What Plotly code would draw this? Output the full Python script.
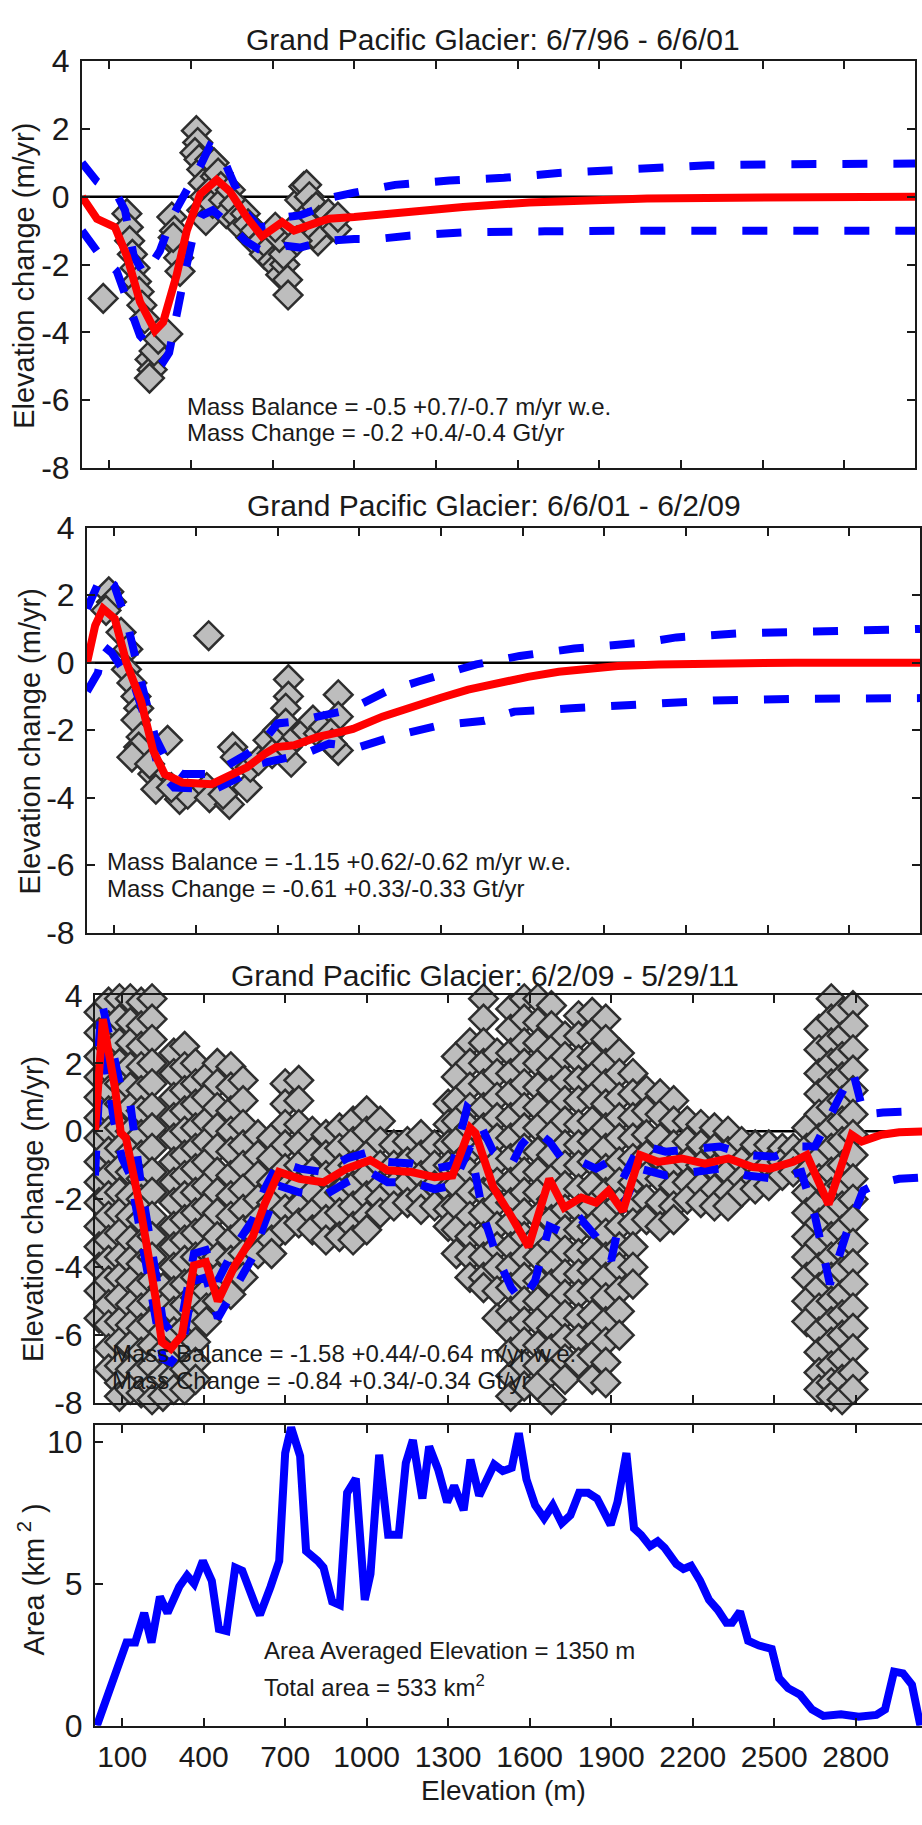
import plotly.graph_objects as go

FIG_W, FIG_H = 922, 1825

# ------------------------------------------------------------------ data
ELEV_TICKS = [100, 400, 700, 1000, 1300, 1600, 1900, 2200, 2500, 2800]
DH_TICKS = [-8, -6, -4, -2, 0, 2, 4]
AREA_TICKS = [0, 5, 10]

PANEL_TITLES = [
    "Grand Pacific Glacier: 6/7/96 - 6/6/01",
    "Grand Pacific Glacier: 6/6/01 - 6/2/09",
    "Grand Pacific Glacier: 6/2/09 - 5/29/11",
]
MB_TEXT = [
    "Mass Balance = -0.5 +0.7/-0.7 m/yr w.e.",
    "Mass Balance = -1.15 +0.62/-0.62 m/yr w.e.",
    "Mass Balance = -1.58 +0.44/-0.64 m/yr w.e.",
]
MC_TEXT = [
    "Mass Change = -0.2 +0.4/-0.4 Gt/yr",
    "Mass Change = -0.61 +0.33/-0.33 Gt/yr",
    "Mass Change = -0.84 +0.34/-0.34 Gt/yr",
]
AREA_TEXT_1 = "Area Averaged Elevation = 1350 m"
AREA_TEXT_2 = "Total area = 533 km<sup>2</sup>"

ZERO_X = [0, 3060]
ZERO_Y = [0, 0]

# ---- panel 1 (1996-2001)
P1_OBS_X = [78, 165, 170, 175, 185, 195, 200, 210, 220, 230, 250, 258, 248, 265, 280, 315,
            330, 340, 345, 355, 360, 335, 420, 425, 415, 430, 440, 445, 450, 440, 455, 470,
            485, 490, 475, 480, 500, 510, 520, 530, 545, 560, 570, 585, 600, 610, 620, 635,
            645, 660, 670, 690, 700, 715, 730, 745, 755, 757, 740, 725, 710, 800, 815, 825,
            835, 845, 860, 870, 880, 890, 905, 910, 867, 850, 830, 780, 790, 935, 940]
P1_OBS_Y = [-3.0, -0.5, -0.9, -1.3, -1.7, -2.1, -2.5, -2.8, -3.2, -3.6, -4.8, -5.1, -5.35, -4.55, -4.2, -4.05,
            -0.6, -1.0, -1.4, -1.8, -2.2, -1.2, 1.95, 1.6, 1.3, 1.1, 0.8, 0.4, 0.0, -0.4, -0.7, 1.1,
            1.0, 0.6, 0.2, -0.2, 0.7, 0.3, -0.1, -0.5, 0.2, -0.2, -0.6, -0.9, -0.5, -0.8, -1.2, -1.0,
            -1.4, -1.3, -1.7, -1.5, -1.9, -2.05, -2.3, -2.0, -2.45, -2.9, -1.7, -1.2, -0.9, -0.1, 0.3, 0.35,
            0.0, -0.4, -0.3, -0.7, -1.0, -0.6, -0.5, -0.85, -1.3, -1.1, -0.8, -0.9, -1.3, -0.95, -0.6]
P1_FIT_X = [0, 55, 121, 165, 213, 268, 298, 348, 385, 434, 495, 543, 605, 661, 735, 779, 867, 908,
            1000, 1212, 1400, 1643, 1850, 2076, 2400, 2700, 3060]
P1_FIT_Y = [0, -0.65, -0.9, -1.75, -3.1, -3.95, -3.7, -2.3, -1.0, 0.07, 0.5, 0.16, -0.6, -1.17, -0.75, -1.0, -0.75, -0.65,
            -0.6, -0.42, -0.3, -0.17, -0.1, -0.05, -0.03, -0.02, 0.0]
P1_UP_X = [0, 55, 100, 132, 158, 190, 230, 286, 334, 385, 434, 470, 510, 540, 606, 650, 700, 750, 800, 850,
           900, 1000, 1150, 1350, 1550, 1750, 2100, 2300, 2600, 3060]
P1_UP_Y = [1.0, 0.45, 0.2, 0.0, -0.4, -1.75, -2.3, -1.6, -0.55, 0.15, 0.9, 1.5, 1.3, 0.73, -0.5, -0.9, -0.85, -0.6, -0.55, -0.4,
           -0.05, 0.12, 0.35, 0.48, 0.56, 0.7, 0.88, 0.93, 0.96, 0.98]
P1_LO_X = [0, 55, 128, 213, 260, 300, 320, 348, 378, 410, 440, 480, 540, 600, 650, 700, 750, 800, 850, 900,
           1000, 1080, 1200, 1400, 1700, 2000, 3060]
P1_LO_Y = [-1.0, -1.6, -2.2, -4.1, -4.5, -4.85, -4.6, -3.3, -2.25, -1.1, -0.55, -0.4, -0.8, -1.3, -1.55, -1.6, -1.45, -1.5, -1.4, -1.3,
           -1.25, -1.25, -1.15, -1.05, -1.02, -1.0, -1.0]

# ---- panel 2 (2001-2009)
P2_OBS_X = [80, 90, 70, 125, 150, 145, 165, 180, 190, 180, 199, 190, 165, 296, 242, 253, 230, 340, 370, 310,
            440, 450, 447, 523, 500, 535, 545, 588, 600, 630, 665, 680, 700, 740, 740, 730, 730, 750, 735,
            770, 804, 830, 850, 870, 923, 923, 895, 923, 900]
P2_OBS_Y = [2.1, 1.8, 1.55, 0.9, 0.4, -0.2, -0.6, -1.0, -1.35, -1.7, -2.2, -2.5, -2.8, -2.3, -3.3, -3.75, -3.0, -4.05, -3.9, -3.7,
            -3.7, -4.0, 0.8, -4.2, -3.9, -2.5, -2.8, -3.7, -3.1, -2.9, -2.3, -2.7, -2.0, -0.5, -1.0, -1.35, -1.8, -2.95, -2.5,
            -2.2, -2.0, -1.7, -2.1, -1.9, -0.95, -1.6, -2.1, -2.6, -2.4]
P2_FIT_X = [0, 30, 59, 102, 145, 199, 243, 285, 350, 458, 523, 588, 653, 695, 761, 848, 933, 977, 1085, 1194,
            1300, 1400, 1517, 1620, 1733, 1850, 1950, 2100, 2300, 2600, 3060]
P2_FIT_Y = [0, 1.1, 1.6, 1.3, 0.0, -1.15, -2.6, -3.3, -3.55, -3.6, -3.35, -3.1, -2.7, -2.5, -2.45, -2.2, -2.05, -1.96, -1.6, -1.3,
            -1.04, -0.8, -0.57, -0.42, -0.27, -0.17, -0.1, -0.05, -0.02, 0.0, 0.0]
P2_UP_X = [0, 55, 100, 150, 200, 250, 300, 350, 460, 520, 590, 650, 700, 760, 850, 933, 1000, 1100, 1220, 1300,
           1430, 1590, 1790, 2050, 2165, 2400, 2700, 3060]
P2_UP_Y = [1.6, 2.6, 2.3, 1.1, -0.6, -2.2, -3.0, -3.3, -3.3, -3.0, -2.7, -2.3, -1.8, -1.75, -1.6, -1.45, -1.25, -0.85, -0.55, -0.35,
           -0.05, 0.2, 0.42, 0.6, 0.75, 0.87, 0.95, 1.0]
P2_LO_X = [0, 40, 60, 90, 177, 231, 264, 320, 470, 560, 631, 700, 800, 890, 1000, 1140, 1300, 1460, 1570, 1780,
           2000, 2300, 2600, 3060]
P2_LO_Y = [-0.85, -0.3, 0.5, 0.3, -0.75, -2.1, -3.2, -3.7, -3.75, -3.4, -3.0, -2.9, -2.7, -2.4, -2.5, -2.15, -1.85, -1.72, -1.45, -1.35,
           -1.25, -1.12, -1.07, -1.05]

# ---- panel 3 (2009-2011): observations stacked per elevation bin
P3_BIN_X = [15, 50, 90, 130, 170, 210, 250, 290, 330, 370, 410, 450, 500, 545, 600, 650, 700, 750, 800, 850,
            900, 950, 1000, 1050, 1100, 1150, 1200, 1250, 1300, 1330, 1380, 1430, 1480, 1530, 1580, 1630, 1680,
            1730, 1780, 1830, 1880, 1930, 1980, 2030, 2080, 2130, 2180, 2230, 2280, 2330, 2380, 2430, 2480,
            2530, 2570, 2620, 2665, 2710, 2750, 2790]
P3_BIN_Y = [
    [3.5, 2.9, 2.2, 1.6, 1.0, 0.4, -0.2, -0.9, -1.5, -2.1, -2.8, -3.4, -4.0, -4.7, -5.5],
    [3.8, 3.1, 2.5, 1.8, 1.2, 0.6, 0.0, -0.6, -1.3, -1.9, -2.5, -3.2, -3.8, -4.4, -5.1, -5.7, -6.4, -7.0],
    [3.9, 3.3, 2.6, 2.0, 1.4, 0.8, 0.1, -0.5, -1.1, -1.8, -2.4, -3.0, -3.7, -4.3, -4.9, -5.6, -6.2, -6.9, -7.4, -7.8],
    [3.9, 3.2, 2.6, 1.9, 1.3, 0.7, 0.0, -0.6, -1.2, -1.9, -2.5, -3.2, -3.8, -4.4, -5.1, -5.7, -6.3, -7.0, -7.6, -8.2],
    [3.8, 3.1, 2.5, 1.9, 1.2, 0.6, -0.1, -0.7, -1.4, -2.0, -2.6, -3.3, -3.9, -4.6, -5.2, -5.8, -6.5, -7.1, -7.7, -8.2],
    [3.9, 3.3, 2.7, 2.0, 1.4, 0.7, 0.1, -0.5, -1.2, -1.8, -2.5, -3.1, -3.7, -4.4, -5.0, -5.6, -6.3, -6.9, -7.5, -7.9],
    [-4.6, -5.2, -5.9, -6.5, -7.2, -7.8],
    [2.3, 1.7, 1.0, 0.4, -0.2, -0.9, -1.5, -2.1, -2.8, -3.4, -4.0, -4.7, -5.3, -5.9, -6.6, -7.2, -7.6],
    [2.5, 1.9, 1.2, 0.6, 0.0, -0.7, -1.3, -1.9, -2.6, -3.2, -3.8, -4.5, -5.1, -5.8, -6.4, -7.0, -7.6],
    [2.0, 1.4, 0.8, 0.1, -0.5, -1.1, -1.8, -2.4, -3.0, -3.7, -4.3, -4.9, -5.6, -6.2, -6.8, -7.3],
    [1.6, 1.0, 0.3, -0.3, -0.9, -1.6, -2.2, -2.8, -3.5, -4.1, -4.7, -5.2, -5.6],
    [2.0, 1.4, 0.7, 0.1, -0.5, -1.2, -1.8, -2.4, -3.1, -3.7, -4.3, -5.0],
    [1.9, 1.3, 0.6, 0.0, -0.6, -1.3, -1.9, -2.5, -3.2, -3.8, -4.3, -4.8],
    [1.5, 0.9, 0.2, -0.4, -1.0, -1.7, -2.3, -2.9, -3.6, -4.3],
    [-0.1, -0.7, -1.3, -2.0, -2.6, -3.1, -3.6],
    [-0.2, -0.8, -1.5, -2.1, -2.7, -3.2, -3.6],
    [1.4, 0.8, 0.2, -0.4, -1.1, -1.7, -2.3, -2.9],
    [1.5, 0.9, 0.2, -0.4, -1.0, -1.6, -2.2, -2.7],
    [0.0, -0.6, -1.2, -1.8, -2.4, -2.9],
    [-0.1, -0.7, -1.3, -2.0, -2.6, -3.2],
    [0.1, -0.5, -1.1, -1.8, -2.4, -3.1],
    [0.3, -0.3, -1.0, -1.6, -2.2, -2.8, -3.2],
    [0.6, 0.0, -0.7, -1.3, -1.9, -2.5, -2.9],
    [0.3, -0.3, -1.0, -1.6, -2.0, -2.4],
    [-0.4, -1.0, -1.6, -2.2],
    [-0.3, -0.9, -1.5, -2.1],
    [-0.1, -0.7, -1.3, -1.9, -2.3],
    [-0.4, -1.0, -1.6, -2.2],
    [0.8, 0.2, -0.4, -1.0, -1.7, -2.3, -2.8],
    [2.2, 1.6, 0.9, 0.3, -0.3, -1.0, -1.6, -2.2, -2.9, -3.6],
    [2.6, 2.0, 1.3, 0.7, 0.1, -0.6, -1.2, -1.8, -2.5, -3.1, -3.7, -4.3],
    [3.9, 3.3, 2.6, 2.0, 1.4, 0.7, 0.1, -0.5, -1.2, -1.8, -2.4, -3.1, -3.7, -4.3, -4.6],
    [2.3, 1.7, 1.0, 0.4, -0.2, -0.9, -1.5, -2.1, -2.8, -3.4, -4.0, -4.7, -5.5],
    [3.6, 3.0, 2.3, 1.7, 1.1, 0.4, -0.2, -0.8, -1.5, -2.1, -2.7, -3.4, -4.0, -4.6, -5.3, -5.9, -6.5, -7.2, -7.8],
    [3.9, 3.3, 2.6, 2.0, 1.4, 0.7, 0.1, -0.5, -1.2, -1.8, -2.4, -3.1, -3.7, -4.3, -5.0, -5.6, -6.2, -6.9, -7.5, -8.2],
    [3.9, 3.2, 2.6, 2.0, 1.3, 0.7, 0.1, -0.6, -1.2, -1.8, -2.5, -3.1, -3.7, -4.4, -5.0, -5.6, -6.3, -6.9, -7.5, -8.2],
    [3.7, 3.1, 2.4, 1.8, 1.2, 0.5, -0.1, -0.7, -1.4, -2.0, -2.6, -3.3, -3.9, -4.5, -5.2, -5.8, -6.4, -7.1, -7.9],
    [2.8, 2.2, 1.5, 0.9, 0.3, -0.4, -1.0, -1.6, -2.3, -2.9, -3.5, -4.2, -4.8, -5.4, -6.1, -6.7, -7.3, -8.2],
    [3.4, 2.8, 2.1, 1.5, 0.9, 0.2, -0.4, -1.0, -1.7, -2.3, -2.9, -3.6, -4.2, -4.8, -5.5, -6.1, -6.8],
    [3.5, 2.9, 2.2, 1.6, 1.0, 0.3, -0.3, -0.9, -1.6, -2.2, -2.8, -3.5, -4.1, -4.7, -5.4, -6.0, -6.6, -7.3],
    [3.3, 2.7, 2.0, 1.4, 0.8, 0.1, -0.5, -1.1, -1.8, -2.4, -3.0, -3.7, -4.3, -4.9, -5.6, -6.2, -6.8, -7.4],
    [2.3, 1.7, 1.0, 0.4, -0.2, -0.9, -1.5, -2.1, -2.8, -3.4, -4.0, -4.7, -5.3, -6.0],
    [1.7, 1.1, 0.4, -0.2, -0.8, -1.5, -2.1, -2.7, -3.4, -4.0, -4.5],
    [1.2, 0.6, -0.1, -0.7, -1.3, -2.0, -2.6],
    [1.1, 0.5, -0.2, -0.8, -1.4, -2.1, -2.8],
    [0.9, 0.3, -0.4, -1.0, -1.6, -2.2, -2.6],
    [0.3, -0.3, -0.9, -1.5, -2.0],
    [0.2, -0.4, -1.0, -1.6, -2.1],
    [0.1, -0.5, -1.1, -1.7, -2.2],
    [0.0, -0.6, -1.2, -1.8, -2.2],
    [-0.3, -0.9, -1.4, -1.8],
    [-0.4, -1.0, -1.4, -1.7],
    [-0.4, -1.0, -1.6],
    [-0.5, -0.9, -1.3],
    [-0.5, -0.9, -1.2],
    [0.1, -0.5, -1.2, -1.8, -2.4, -3.1, -3.7, -4.3, -5.0, -5.6],
    [3.0, 2.4, 1.7, 1.1, 0.5, -0.2, -0.8, -1.4, -2.1, -2.7, -3.3, -4.0, -4.6, -5.2, -5.9, -6.5, -7.1, -7.6],
    [3.9, 3.3, 2.6, 2.0, 1.4, 0.7, 0.1, -0.5, -1.2, -1.8, -2.4, -3.1, -3.7, -4.3, -5.0, -5.6, -6.2, -6.9, -7.4, -7.8],
    [4.1, 3.5, 2.8, 2.2, 1.6, 0.9, 0.3, -0.3, -1.0, -1.6, -2.2, -2.9, -3.5, -4.1, -4.8, -5.4, -6.0, -6.7, -7.3, -7.9],
    [3.7, 3.1, 2.4, 1.8, 1.2, 0.5, -0.1, -0.7, -1.4, -2.0, -2.6, -3.3, -3.9, -4.5, -5.2, -5.8, -6.4, -7.1, -7.6],
]
P3_FIT_X = [0, 29, 73, 95, 114, 169, 224, 246, 279, 320, 364, 408, 452, 515, 581, 624, 677, 753, 841, 926,
            1013, 1077, 1165, 1250, 1316, 1381, 1400, 1466, 1532, 1596, 1672, 1727, 1790, 1844, 1890, 1943,
            2006, 2072, 2160, 2245, 2332, 2420, 2484, 2570, 2620, 2700, 2785, 2822, 2895, 2960, 3060]
P3_FIT_Y = [0, 3.3, 1.3, -0.05, -0.2, -2.35, -4.95, -6.2, -6.4, -6.0, -3.95, -3.85, -5.0, -3.95, -3.1, -2.15, -1.2, -1.4, -1.5, -1.1,
            -0.85, -1.15, -1.2, -1.35, -1.3, 0.1, -0.05, -1.65, -2.5, -3.4, -1.4, -2.25, -1.95, -2.1, -1.75, -2.35,
            -0.7, -0.9, -0.8, -0.95, -0.8, -1.05, -1.1, -0.9, -0.7, -2.15, -0.1, -0.3, -0.1, -0.03, 0.0]
P3_UP_X = [0, 25, 70, 100, 130, 170, 224, 250, 280, 320, 364, 408, 452, 515, 581, 624, 677, 753, 841, 926,
           1013, 1077, 1165, 1250, 1316, 1370, 1400, 1466, 1532, 1570, 1620, 1672, 1727, 1790, 1844, 1890,
           1943, 2006, 2100, 2200, 2300, 2400, 2500, 2600, 2650, 2740, 2790, 2830, 2900, 3060]
P3_UP_Y = [1.0, 3.8, 2.2, 1.1, 0.8, -1.6, -4.2, -5.6, -5.9, -5.5, -3.6, -3.5, -4.4, -3.4, -2.6, -1.7, -0.9, -1.1, -1.2, -0.8,
           -0.6, -0.9, -0.95, -1.1, -1.0, 0.7, 0.5, -0.6, -1.0, -0.4, 0.05, -0.3, -0.9, -0.9, -1.1, -0.9,
           -1.4, -0.4, -0.6, -0.5, -0.45, -0.7, -0.75, -0.45, -0.45, 1.0, 1.75, 0.5, 0.55, 0.6]
P3_LO_X = [0, 25, 70, 100, 130, 170, 224, 250, 280, 320, 364, 408, 452, 515, 581, 624, 677, 753, 841, 926,
           1013, 1077, 1165, 1250, 1316, 1381, 1430, 1480, 1532, 1570, 1620, 1672, 1727, 1790, 1844, 1900,
           1943, 2006, 2100, 2200, 2300, 2400, 2500, 2600, 2650, 2705, 2766, 2827, 2876, 2960, 3060]
P3_LO_Y = [-1.3, 2.8, 0.3, -0.8, -1.3, -3.2, -5.6, -6.7, -6.8, -6.4, -4.4, -4.3, -5.5, -4.6, -3.7, -2.7, -1.6, -1.8, -1.9, -1.5,
           -1.2, -1.5, -1.5, -1.7, -1.6, -0.45, -2.5, -3.7, -4.6, -5.0, -4.4, -2.8, -3.0, -2.6, -3.1, -3.8,
           -2.2, -1.1, -1.3, -1.2, -1.1, -1.3, -1.4, -1.2, -2.5, -4.5, -3.0, -1.75, -1.55, -1.4, -1.35]

# ---- panel 4: area-elevation distribution
P4_ELEV = [7, 62, 116, 148, 181, 208, 239, 267, 310, 339, 365, 397, 430, 456, 484, 516, 542, 592, 607, 646,
           678, 700, 722, 755, 777, 820, 841, 873, 901, 928, 960, 993, 1014, 1046, 1079, 1118, 1144, 1170, 1205,
           1230, 1263, 1296, 1322, 1357, 1382, 1414, 1469, 1501, 1534, 1560, 1588, 1620, 1653, 1685, 1718, 1750,
           1782, 1815, 1848, 1898, 1923, 1956, 1984, 2010, 2043, 2071, 2097, 2140, 2166, 2194, 2227, 2260, 2292,
           2324, 2345, 2374, 2404, 2444, 2476, 2491, 2518, 2551, 2595, 2639, 2681, 2746, 2811, 2876, 2908, 2941,
           2974, 3007, 3038]
P4_AREA = [0.0, 1.44, 2.93, 2.93, 3.97, 2.93, 4.54, 3.97, 4.89, 5.29, 5.0, 5.8, 5.1, 3.4, 3.33, 5.57, 5.46, 4.2, 3.9, 4.89,
           5.8, 9.6, 10.5, 9.5, 6.15, 5.8, 5.57, 4.37, 4.25, 8.2, 8.7, 4.43, 5.34, 9.54, 6.72, 6.72, 9.25, 10.06, 8.0,
           9.83, 9.02, 7.87, 8.45, 7.59, 9.37, 8.1, 9.2, 8.97, 9.08, 10.3, 8.68, 7.76, 7.3, 7.76, 7.13, 7.41,
           8.2, 8.2, 8.0, 7.07, 7.87, 9.6, 6.95, 6.72, 6.32, 6.49, 6.26, 5.69, 5.52, 5.63, 5.11, 4.43, 4.08,
           3.62, 3.62, 4.02, 2.99, 2.82, 2.76, 2.7, 1.67, 1.32, 1.09, 0.57, 0.34, 0.4, 0.31, 0.38, 0.57, 1.9,
           1.84, 1.44, 0.0]

# ------------------------------------------------------------------ style
FONT = "Liberation Sans, Arial, Helvetica, sans-serif"
INK = "#1a1a1a"
RED = "#ff0000"
BLUE = "#0000ff"
DASH = "25px,26px"
DIAMOND = dict(symbol="diamond", size=22, color="#bdbdbd", line=dict(color="#2e2e2e", width=2.5))

# pixel geometry of the four axes boxes: left, right, top, bottom
BOXES = [(82, 915, 44, 459), (87, 920, 520, 933), (95, 922, 997, 1413), (95, 922, 1435, 1742)]
XRANGES = [[0, 3060], [0, 3060], [0, 3044], [0, 3044]]
YRANGES = [[-8, 4], [-8, 4], [-8, 4], [0, 10.6]]

fig = go.Figure()


def refs(i):
    return ("x" if i == 1 else f"x{i}"), ("y" if i == 1 else f"y{i}")


dh_panels = [
    (P1_OBS_X, P1_OBS_Y, P1_FIT_X, P1_FIT_Y, P1_UP_X, P1_UP_Y, P1_LO_X, P1_LO_Y),
    (P2_OBS_X, P2_OBS_Y, P2_FIT_X, P2_FIT_Y, P2_UP_X, P2_UP_Y, P2_LO_X, P2_LO_Y),
]
p3_x = [bx for bx, ys in zip(P3_BIN_X, P3_BIN_Y) for _ in ys]
p3_y = [v for ys in P3_BIN_Y for v in ys]
dh_panels.append((p3_x, p3_y, P3_FIT_X, P3_FIT_Y, P3_UP_X, P3_UP_Y, P3_LO_X, P3_LO_Y))

for i, (ox, oy, fx, fy, ux, uy, lx, ly) in enumerate(dh_panels, 1):
    xr, yr = refs(i)
    fig.add_trace(go.Scatter(x=ZERO_X, y=ZERO_Y, mode="lines", xaxis=xr, yaxis=yr,
                             line=dict(color="black", width=2.5), hoverinfo="skip"))
    fig.add_trace(go.Scatter(x=ox, y=oy, mode="markers", xaxis=xr, yaxis=yr,
                             marker=DIAMOND, cliponaxis=False))
    fig.add_trace(go.Scatter(x=ux, y=uy, mode="lines", xaxis=xr, yaxis=yr,
                             line=dict(color=BLUE, width=8, dash=DASH)))
    fig.add_trace(go.Scatter(x=lx, y=ly, mode="lines", xaxis=xr, yaxis=yr,
                             line=dict(color=BLUE, width=8, dash=DASH)))
    fig.add_trace(go.Scatter(x=fx, y=fy, mode="lines", xaxis=xr, yaxis=yr,
                             line=dict(color=RED, width=8)))

fig.add_trace(go.Scatter(x=P4_ELEV, y=P4_AREA, mode="lines", xaxis="x4", yaxis="y4",
                         line=dict(color=BLUE, width=8), cliponaxis=False))

layout = {}
for i, ((l, r, t, b), xrg, yrg) in enumerate(zip(BOXES, XRANGES, YRANGES), 1):
    suffix = "" if i == 1 else str(i)
    yt = AREA_TICKS if i == 4 else DH_TICKS
    layout["xaxis" + suffix] = dict(
        domain=[l / FIG_W, min(r / FIG_W, 1.0)], range=xrg, anchor="y" + suffix,
        tickmode="array", tickvals=ELEV_TICKS, ticktext=[str(v) for v in ELEV_TICKS],
        showticklabels=(i == 4), ticks="inside", ticklen=8, tickwidth=2, tickcolor=INK,
        showline=True, linewidth=2, linecolor=INK, mirror="ticks",
        showgrid=False, zeroline=False, ticklabelstandoff=3,
        tickfont=dict(family=FONT, size=30, color=INK),
    )
    layout["yaxis" + suffix] = dict(
        domain=[1 - b / FIG_H, 1 - t / FIG_H], range=yrg, anchor="x" + suffix,
        tickmode="array", tickvals=yt, ticktext=[str(v) for v in yt],
        ticks="inside", ticklen=8, tickwidth=2, tickcolor=INK,
        showline=True, linewidth=2, linecolor=INK, mirror=("ticks" if i <= 2 else False),
        showgrid=False, zeroline=False, ticklabelstandoff=4,
        tickfont=dict(family=FONT, size=32, color=INK),
    )

ann = []
# panel titles
for title, (cx, cy) in zip(PANEL_TITLES, [(493, 22), (494, 497), (485, 977)]):
    ann.append(dict(text=title, x=cx / FIG_W, y=1 - cy / FIG_H, xref="paper", yref="paper",
                    showarrow=False, xanchor="center", yanchor="middle",
                    font=dict(family=FONT, size=30, color=INK)))
# y-axis titles
for txt, (cx, cy) in zip(["Elevation change (m/yr)"] * 3 + ["Area (km<sup> 2</sup> )"],
                         [(24, 263), (30, 738), (33, 1215), (31, 1593)]):
    ann.append(dict(text=txt, x=cx / FIG_W, y=1 - cy / FIG_H, xref="paper", yref="paper",
                    showarrow=False, xanchor="center", yanchor="middle", textangle=-90,
                    font=dict(family=FONT, size=29, color=INK)))
# x-axis title
ann.append(dict(text="Elevation (m)", x=504 / FIG_W, y=0, xref="paper", yref="paper",
                showarrow=False, xanchor="center", yanchor="bottom", borderpad=0,
                font=dict(family=FONT, size=28, color=INK)))
# in-panel statistics
stat_pos = [(378, -6.2, -6.95), (66, -5.88, -6.7), (57, -6.53, -7.34)]
for i, (mb, mc, (sx, y1, y2)) in enumerate(zip(MB_TEXT, MC_TEXT, stat_pos), 1):
    xr, yr = refs(i)
    for txt, yy in ((mb, y1), (mc, y2)):
        ann.append(dict(text=txt, x=sx, y=yy, xref=xr, yref=yr, showarrow=False,
                        xanchor="left", yanchor="middle",
                        font=dict(family=FONT, size=24, color=INK)))
for txt, yy in ((AREA_TEXT_1, 2.65), (AREA_TEXT_2, 1.38)):
    ann.append(dict(text=txt, x=615, y=yy, xref="x4", yref="y4", showarrow=False,
                    xanchor="left", yanchor="middle",
                    font=dict(family=FONT, size=24, color=INK)))

fig.update_layout(
    width=FIG_W, height=FIG_H, margin=dict(l=0, r=0, t=0, b=0),
    paper_bgcolor="white", plot_bgcolor="white", showlegend=False,
    font=dict(family=FONT, color=INK), annotations=ann, **layout,
)

fig.write_html("out.html")
